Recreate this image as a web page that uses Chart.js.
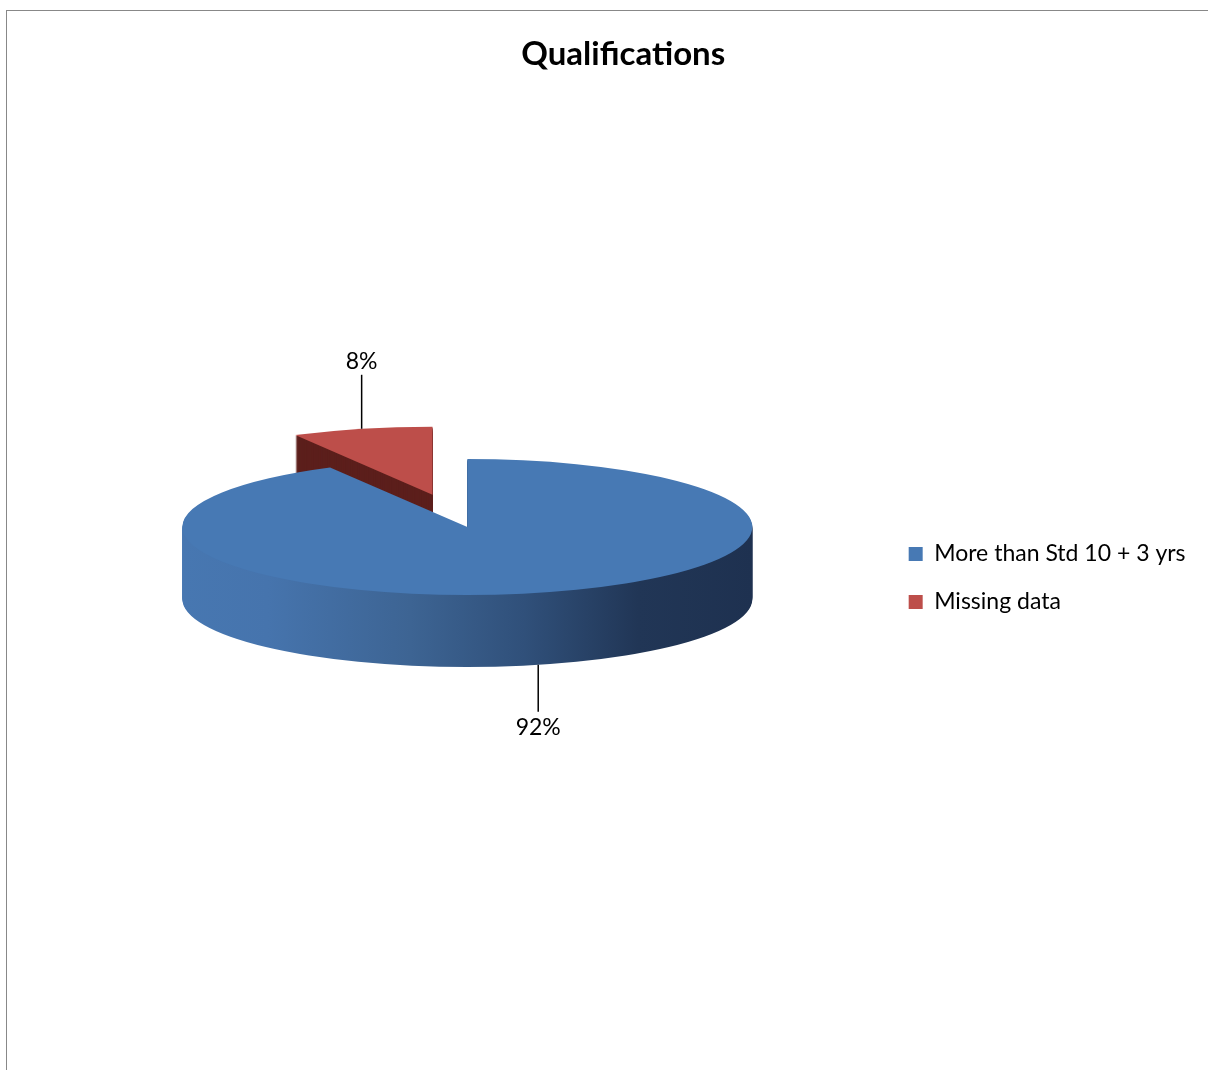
<!DOCTYPE html>
<html>
<head>
<meta charset="utf-8">
<title>Qualifications</title>
<script src="https://cdn.jsdelivr.net/npm/chart.js@4.4.1/dist/chart.umd.min.js"></script>
<style>
  html, body { margin: 0; padding: 0; background: #fff; overflow: hidden; }
  #frame { position: absolute; left: 6px; top: 10px; width: 1260px; height: 1100px; border: 1.5px solid #888; }
  #wrap { position: absolute; left: 0; top: 0; width: 1208px; height: 1070px; }
</style>
</head>
<body>
<div id="frame"></div>
<div id="wrap"><canvas id="qualChart"></canvas></div>
<script>
const categories = ['More than Std 10 + 3 yrs', 'Missing data'];
const shares = [92, 8];
const explode = [0, 140];

const topColours = ['#4779b4', '#bd4e4a'];
const sideColours = ['gradient', '#5c1f1c'];

// 3D look: squash the disc, give it thickness, raise the top face
const tilt = 68 / 285;
const depth = 72;
const lift = 51;

function project(ctx, arc) {
  ctx.translate(0, arc.y - lift);
  ctx.scale(1, tilt);
  ctx.translate(0, -arc.y);
}

function slicePath(ctx, arc, off) {
  const mid = (arc.startAngle + arc.endAngle) / 2;
  const cx = arc.x + Math.cos(mid) * off;
  const cy = arc.y + Math.sin(mid) * off;
  ctx.beginPath();
  ctx.moveTo(cx, cy);
  ctx.arc(cx, cy, arc.outerRadius, arc.startAngle, arc.endAngle);
  ctx.closePath();
}

function sideFill(ctx, arc, i) {
  if (sideColours[i] !== 'gradient') return sideColours[i];
  const r = arc.outerRadius;
  const g = ctx.createLinearGradient(arc.x - r, 0, arc.x + r, 0);
  g.addColorStop(0, '#4777b1');
  g.addColorStop(0.15, '#4674ad');
  g.addColorStop(0.4, '#3d6493');
  g.addColorStop(0.6, '#30507a');
  g.addColorStop(0.8, '#213656');
  g.addColorStop(1, '#1e3150');
  return g;
}

function arcProps(el) {
  return el.getProps(['x', 'y', 'startAngle', 'endAngle', 'outerRadius']);
}

const pie3d = {
  id: 'pie3d',
  beforeDatasetsDraw(chart) {
    const ctx = chart.ctx;
    const arcs = chart.getDatasetMeta(0).data;
    // back slice first, the big one covers its base
    const order = arcs.map((a, i) => i).reverse();
    order.forEach(i => {
      const el = arcs[i];
      const arc = arcProps(el);
      const off = el.options.offset || 0;
      for (let d = depth; d >= 1; d--) {
        ctx.save();
        ctx.translate(0, d);
        project(ctx, arc);
        slicePath(ctx, arc, off);
        ctx.fillStyle = sideFill(ctx, arc, i);
        ctx.fill();
        ctx.restore();
      }
      ctx.save();
      project(ctx, arc);
      slicePath(ctx, arc, off);
      ctx.fillStyle = topColours[i];
      ctx.fill();
      ctx.restore();
    });
    return false;
  },
  afterDraw(chart) {
    // percentage labels with leader lines
    const ctx = chart.ctx;
    const meta = chart.getDatasetMeta(0);
    const total = shares.reduce((a, b) => a + b, 0);
    meta.data.forEach((el, i) => {
      const arc = arcProps(el);
      const off = el.options.offset || 0;
      const mid = (arc.startAngle + arc.endAngle) / 2;
      const dist = arc.outerRadius + off;
      const px = arc.x + Math.cos(mid) * dist;
      const front = Math.sin(mid) > 0;
      let py = arc.y - lift + Math.sin(mid) * dist * tilt;
      if (front) py += depth;
      const len = front ? 47 : 54;
      const endY = front ? py + len : py - len;
      ctx.save();
      ctx.strokeStyle = '#000';
      ctx.lineWidth = 1.5;
      ctx.beginPath();
      ctx.moveTo(px, py);
      ctx.lineTo(px, endY);
      ctx.stroke();
      ctx.fillStyle = '#000';
      ctx.font = '23px Lato';
      ctx.textAlign = 'center';
      ctx.textBaseline = 'middle';
      const text = Math.round(shares[i] / total * 100) + '%';
      ctx.fillText(text, px, front ? endY + 16 : endY - 13);
      ctx.restore();
    });
  }
};

const data = {
  labels: categories,
  datasets: [{
    data: shares,
    backgroundColor: topColours,
    borderWidth: 0,
    radius: 285,
    offset: explode
  }]
};

const config = {
  type: 'pie',
  data: data,
  options: {
    responsive: true,
    maintainAspectRatio: false,
    animation: false,
    layout: { padding: { left: 51, right: 12.5, top: 0, bottom: 0 } },
    plugins: {
      title: {
        display: true,
        text: 'Qualifications',
        color: '#000',
        font: { family: 'Lato', size: 33, weight: 'bold' },
        padding: { top: 35, bottom: 11.4 }
      },
      legend: {
        position: 'right',
        fullSize: false,
        labels: {
          color: '#000',
          font: { family: 'Lato', size: 23 },
          boxWidth: 14,
          boxHeight: 14,
          padding: 25
        }
      },
      tooltip: { enabled: false }
    }
  },
  plugins: [pie3d]
};

const ctx = document.getElementById('qualChart');
const myChart = new Chart(ctx, config);
</script>
</body>
</html>
